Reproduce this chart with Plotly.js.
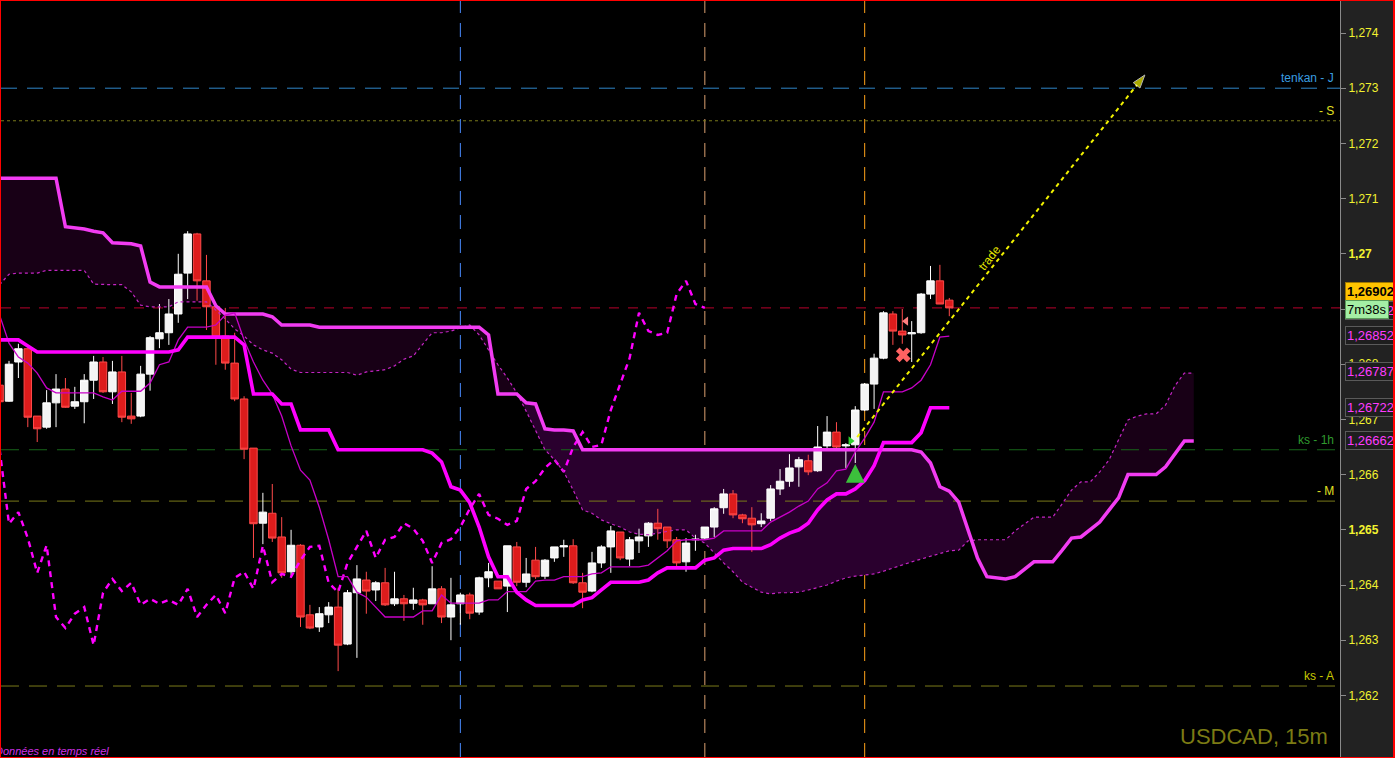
<!DOCTYPE html>
<html><head><meta charset="utf-8">
<script src="https://cdn.plot.ly/plotly-3.0.1.min.js"></script>
<style>
html,body{margin:0;padding:0;background:#ff0000;width:1395px;height:758px;overflow:hidden;}
#chart{position:absolute;left:1px;top:1px;width:1392px;height:756px;background:#222;}
</style></head><body><div id="chart"></div>
<script>
// ---- candles (bar index 0..101) ----
const open = [1.26762,1.26733,1.26804,1.26828,1.26706,1.26686,1.26730,1.26755,1.26724,1.26732,
1.26771,1.26804,1.26750,1.26786,1.26706,1.26706,1.26782,1.26846,1.26857,1.26891,
1.26965,1.27036,1.26951,1.26904,1.26851,1.26802,1.26737,1.26648,1.26512,1.26530,
1.26487,1.26424,1.26472,1.26346,1.26324,1.26346,1.26360,1.26293,1.26386,1.26409,
1.26391,1.26404,1.26366,1.26375,1.26367,1.26373,1.26366,1.26393,1.26342,1.26366,
1.26382,1.26351,1.26413,1.26407,1.26398,1.26469,1.26405,1.26445,1.26416,1.26449,
1.26469,1.26471,1.26404,1.26389,1.26440,1.26469,1.26496,1.26447,1.26480,1.26489,
1.26512,1.26505,1.26482,1.26442,1.26482,1.26485,1.26505,1.26540,1.26565,1.26527,
1.26521,1.26511,1.26521,1.26574,1.26588,1.26614,1.26625,1.26607,1.26652,1.26677,
1.26652,1.26654,1.26717,1.26764,1.26811,1.26891,1.26860,1.26855,1.26857,1.26927,
1.26951,1.26916];
const high = [1.26766,1.26806,1.26837,1.26829,1.26706,1.26753,1.26782,1.26775,1.26759,1.26782,
1.26815,1.26813,1.26806,1.26815,1.26748,1.26797,1.26851,1.26909,1.26918,1.27000,
1.27041,1.27038,1.26998,1.26907,1.26902,1.26857,1.26742,1.26648,1.26567,1.26583,
1.26523,1.26500,1.26474,1.26364,1.26360,1.26369,1.26395,1.26391,1.26436,1.26424,
1.26407,1.26431,1.26424,1.26382,1.26395,1.26375,1.26434,1.26398,1.26413,1.26386,
1.26386,1.26415,1.26440,1.26407,1.26471,1.26478,1.26449,1.26469,1.26447,1.26469,
1.26482,1.26483,1.26422,1.26460,1.26472,1.26507,1.26496,1.26487,1.26502,1.26514,
1.26538,1.26505,1.26487,1.26485,1.26491,1.26505,1.26541,1.26574,1.26572,1.26529,
1.26541,1.26530,1.26581,1.26610,1.26637,1.26632,1.26636,1.26688,1.26706,1.26695,
1.26657,1.26724,1.26766,1.26819,1.26896,1.26896,1.26900,1.26878,1.26929,1.26978,
1.26980,1.26920];
const low = [1.26726,1.26732,1.26775,1.26686,1.26659,1.26683,1.26686,1.26721,1.26719,1.26693,
1.26737,1.26748,1.26728,1.26695,1.26692,1.26704,1.26752,1.26829,1.26835,1.26875,
1.26918,1.26915,1.26862,1.26799,1.26790,1.26733,1.26628,1.26449,1.26474,1.26478,
1.26413,1.26418,1.26324,1.26320,1.26315,1.26331,1.26244,1.26291,1.26268,1.26348,
1.26371,1.26362,1.26362,1.26335,1.26355,1.26328,1.26366,1.26331,1.26300,1.26328,
1.26338,1.26346,1.26396,1.26393,1.26351,1.26398,1.26396,1.26411,1.26411,1.26442,
1.26451,1.26402,1.26358,1.26387,1.26431,1.26422,1.26445,1.26434,1.26458,1.26469,
1.26482,1.26467,1.26431,1.26424,1.26462,1.26483,1.26487,1.26529,1.26521,1.26512,
1.26460,1.26505,1.26516,1.26563,1.26578,1.26578,1.26599,1.26605,1.26646,1.26646,
1.26612,1.26621,1.26715,1.26719,1.26809,1.26835,1.26837,1.26804,1.26855,1.26918,
1.26909,1.26887];
const close = [1.26732,1.26800,1.26828,1.26704,1.26683,1.26730,1.26755,1.26722,1.26732,1.26771,
1.26804,1.26750,1.26786,1.26704,1.26701,1.26782,1.26848,1.26857,1.26891,1.26963,
1.27036,1.26951,1.26904,1.26849,1.26802,1.26737,1.26646,1.26511,1.26532,1.26485,
1.26422,1.26472,1.26342,1.26322,1.26348,1.26360,1.26291,1.26386,1.26411,1.26389,
1.26404,1.26364,1.26375,1.26366,1.26373,1.26364,1.26393,1.26342,1.26364,1.26382,
1.26349,1.26413,1.26424,1.26393,1.26471,1.26405,1.26420,1.26415,1.26445,1.26469,
1.26471,1.26404,1.26387,1.26440,1.26469,1.26498,1.26449,1.26482,1.26487,1.26512,
1.26502,1.26480,1.26440,1.26476,1.26483,1.26505,1.26538,1.26565,1.26527,1.26520,
1.26509,1.26516,1.26574,1.26588,1.26612,1.26627,1.26605,1.26650,1.26677,1.26650,
1.26654,1.26717,1.26764,1.26811,1.26893,1.26860,1.26853,1.26857,1.26927,1.26951,
1.26909,1.26902];

// ---- ichimoku ----
const tenkan = [1.26889,1.26838,1.26813,1.26802,1.26784,1.26757,1.26748,1.26748,1.26748,1.26748,
1.26748,1.26741,1.26735,1.26751,1.26751,1.26751,1.26766,1.26799,1.26804,1.26844,
1.26867,1.26867,1.26867,1.26871,1.26889,1.26893,1.26844,1.26804,1.26771,1.26746,
1.26706,1.26652,1.26608,1.26590,1.26541,1.26482,1.26415,1.26415,1.26387,1.26378,
1.26360,1.26342,1.26342,1.26342,1.26342,1.26353,1.26353,1.26382,1.26367,1.26367,
1.26367,1.26367,1.26373,1.26373,1.26388,1.26388,1.26388,1.26407,1.26409,1.26409,
1.26415,1.26415,1.26415,1.26420,1.26422,1.26433,1.26433,1.26433,1.26433,1.26436,
1.26449,1.26462,1.26480,1.26482,1.26482,1.26482,1.26485,1.26498,1.26498,1.26498,
1.26498,1.26498,1.26514,1.26523,1.26532,1.26543,1.26552,1.26574,1.26585,1.26607,
1.26610,1.26641,1.26666,1.26695,1.26750,1.26750,1.26750,1.26757,1.26771,1.26799,
1.26849,1.26851];
const kijun = [1.26844,1.26844,1.26844,1.26833,1.26822,1.26822,1.26822,1.26822,1.26822,1.26822,
1.26822,1.26822,1.26822,1.26822,1.26822,1.26822,1.26822,1.26822,1.26822,1.26826,
1.26849,1.26849,1.26849,1.26849,1.26849,1.26849,1.26835,1.26746,1.26746,1.26746,
1.26728,1.26728,1.26681,1.26681,1.26681,1.26681,1.26645,1.26645,1.26645,1.26645,
1.26645,1.26645,1.26645,1.26645,1.26645,1.26645,1.26639,1.26623,1.26578,1.26572,
1.26549,1.26505,1.26451,1.26415,1.26415,1.26387,1.26373,1.26363,1.26363,1.26363,
1.26363,1.26363,1.26373,1.26377,1.26391,1.26405,1.26405,1.26405,1.26405,1.26409,
1.26422,1.26431,1.26431,1.26431,1.26431,1.26445,1.26449,1.26463,1.26466,1.26466,
1.26466,1.26466,1.26473,1.26485,1.26494,1.26500,1.26512,1.26536,1.26554,1.26565,
1.26565,1.26574,1.26589,1.26616,1.26658,1.26658,1.26658,1.26658,1.26676,1.26721,
1.26721,1.26721];
// chikou span: plotted on bars 0..75
const chikou = [1.26646,1.26511,1.26532,1.26485,1.26422,1.26472,1.26342,1.26322,1.26348,1.26360,
1.26291,1.26386,1.26411,1.26389,1.26404,1.26364,1.26375,1.26366,1.26373,1.26364,
1.26393,1.26342,1.26364,1.26382,1.26349,1.26413,1.26424,1.26393,1.26471,1.26405,
1.26420,1.26415,1.26445,1.26469,1.26471,1.26404,1.26387,1.26440,1.26469,1.26498,
1.26449,1.26482,1.26487,1.26512,1.26502,1.26480,1.26440,1.26476,1.26483,1.26505,
1.26538,1.26565,1.26527,1.26520,1.26509,1.26516,1.26574,1.26588,1.26612,1.26627,
1.26605,1.26650,1.26677,1.26650,1.26654,1.26717,1.26764,1.26811,1.26893,1.26860,
1.26853,1.26857,1.26927,1.26951,1.26909,1.26902];
// senkou spans: plotted on bars 0..127 (26 bars ahead)
const spanA = [1.26944,1.26963,1.26965,1.26965,1.26965,1.26970,1.26970,1.26970,1.26970,1.26970,
1.26945,1.26944,1.26944,1.26944,1.26931,1.26907,1.26904,1.26904,1.26904,1.26913,
1.26913,1.26913,1.26913,1.26898,1.26882,1.26864,1.26851,1.26835,1.26826,1.26820,
1.26808,1.26791,1.26785,1.26785,1.26785,1.26785,1.26785,1.26785,1.26780,1.26786,
1.26788,1.26790,1.26797,1.26809,1.26815,1.26837,1.26857,1.26857,1.26860,1.26866,
1.26871,1.26853,1.26826,1.26799,1.26775,1.26748,1.26715,1.26679,1.26645,1.26627,
1.26605,1.26572,1.26536,1.26530,1.26518,1.26511,1.26505,1.26496,1.26492,1.26491,
1.26494,1.26496,1.26500,1.26500,1.26485,1.26476,1.26458,1.26440,1.26424,1.26405,
1.26396,1.26387,1.26384,1.26386,1.26386,1.26387,1.26391,1.26395,1.26400,1.26407,
1.26413,1.26416,1.26418,1.26420,1.26425,1.26431,1.26436,1.26442,1.26447,1.26452,
1.26458,1.26462,1.26463,1.26480,1.26482,1.26482,1.26482,1.26482,1.26498,1.26511,
1.26523,1.26523,1.26523,1.26547,1.26572,1.26587,1.26587,1.26605,1.26627,1.26663,
1.26699,1.26706,1.26710,1.26710,1.26726,1.26761,1.26784,1.26784];
const spanB = [1.27137,1.27137,1.27137,1.27137,1.27137,1.27137,1.27137,1.27049,1.27047,1.27045,
1.27041,1.27038,1.27020,1.27019,1.27018,1.27014,1.26949,1.26940,1.26940,1.26940,
1.26940,1.26940,1.26940,1.26906,1.26891,1.26891,1.26891,1.26891,1.26891,1.26886,
1.26871,1.26871,1.26871,1.26871,1.26867,1.26867,1.26867,1.26867,1.26867,1.26867,
1.26867,1.26867,1.26867,1.26867,1.26867,1.26867,1.26867,1.26867,1.26867,1.26867,
1.26867,1.26867,1.26853,1.26746,1.26746,1.26746,1.26730,1.26728,1.26683,1.26681,
1.26681,1.26679,1.26645,1.26645,1.26645,1.26645,1.26645,1.26645,1.26645,1.26645,
1.26645,1.26645,1.26645,1.26645,1.26645,1.26645,1.26645,1.26645,1.26645,1.26645,
1.26645,1.26645,1.26645,1.26645,1.26645,1.26645,1.26645,1.26645,1.26645,1.26645,
1.26645,1.26645,1.26645,1.26645,1.26645,1.26645,1.26645,1.26645,1.26641,1.26621,
1.26578,1.26570,1.26550,1.26500,1.26449,1.26415,1.26413,1.26411,1.26415,1.26429,
1.26442,1.26442,1.26442,1.26463,1.26485,1.26487,1.26500,1.26514,1.26536,1.26558,
1.26600,1.26600,1.26600,1.26600,1.26614,1.26637,1.26661,1.26661];
// cloud colouring segments [fromBar, toBar, kind]
const cloudSegments = [[0,55,'dark'],[55,103,'bright'],[103,127,'dark']];

// ---- reference levels / markers ----
const levelValues = [1.27300, 1.27241, 1.26902, 1.26645, 1.26552, 1.26217];
const levelLabels = ['tenkan - J', '- S', '', 'ks - 1h', '- M', 'ks - A'];
const markerBars = [49, 75, 92];
const tickValues = [1.262,1.263,1.264,1.265,1.266,1.267,1.268,1.269,1.27,1.271,1.272,1.273,1.274];
const tickLabels = ['1,262','1,263','1,264','<b>1,265</b>','1,266','1,267','1,268','','<b>1,27</b>','1,271','1,272','1,273','1,274'];
const boxValues = [1.26852, 1.26787, 1.26722, 1.26662];
const boxLabels = ['1,26852','1,26787','1,26722','1,26662'];
const priceNow = 1.26902, priceNowLabel = '1,26902', timerLabel = '7m38s';
const tradeX = [91.2, 121.8], tradeY = [1.26668, 1.27324];
const entryArrow = {bar: 91, price: 1.26619};
const entryTri = {bar: 90.5, price: 1.26661};
const exitCross = {bar: 96.1, price: 1.26817};
const exitTri = {bar: 96.4, price: 1.26878};

// ---- styles ----
const XR = [0.149, 142.55], YR = [1.2608841, 1.2745797];
const levelStyle = [
  {color:'#2f86c8', dash:'16px,10px', label:'#3a9ee0'},
  {color:'#7a7a1a', dash:'3px,3px', label:'#e0e020'},
  {color:'#b8002c', dash:'10px,9px', label:''},
  {color:'#17661a', dash:'18px,10px', label:'#2f9a2f'},
  {color:'#7a7a1a', dash:'18px,10px', label:'#e0e020'},
  {color:'#7a7a1a', dash:'18px,10px', label:'#c8c800'}];
const vStyle = [{color:'#4a8cff'},{color:'#dba070'},{color:'#ffa31a'}];
const cloudColor = {dark:'rgb(24,0,22)', bright:'rgb(42,0,46)'};

const idx = n => Array.from({length:n}, (_, i) => i);

// shapes drawn beneath every trace: cloud, levels, time markers
const shapes = [];
cloudSegments.forEach(([s, e, kind]) => {
  const pts = [];
  for (let i = s; i <= e; i++) pts.push(i + ',' + spanA[i]);
  for (let i = e; i >= s; i--) pts.push(i + ',' + spanB[i]);
  shapes.push({type:'path', xref:'x', yref:'y', layer:'below', path:'M' + pts.join('L') + 'Z',
    fillcolor: cloudColor[kind], line:{width:0}});
});
levelValues.forEach((v, k) => {
  shapes.push({type:'line', xref:'x', yref:'y', layer:'below', x0: XR[0], x1: XR[1], y0: v, y1: v,
    line:{color: levelStyle[k].color, width:1, dash: levelStyle[k].dash}});
});
markerBars.forEach((b, k) => {
  shapes.push({type:'line', xref:'x', yref:'paper', layer:'below', x0: b, x1: b, y0: 0, y1: 1,
    line:{color: vStyle[k].color, width:1, dash:'14px,10px'}});
});

const traces = [];
traces.push({x: idx(open.length), open, high, low, close, type:'candlestick',
  increasing:{line:{color:'#ffffff', width:1}, fillcolor:'#f4f4f4'},
  decreasing:{line:{color:'#ff4a4a', width:1}, fillcolor:'#dd1c1c'},
  whiskerwidth:0, hoverinfo:'skip'});
traces.push({x: idx(chikou.length), y: chikou, type:'scatter', mode:'lines',
  line:{color:'#ff00ff', width:2.4, dash:'6px,5px'}});
traces.push({x: idx(spanA.length), y: spanA, type:'scatter', mode:'lines',
  line:{color:'#c424c4', width:1.2, dash:'3px,3px'}});
traces.push({x: idx(spanB.length), y: spanB, type:'scatter', mode:'lines',
  line:{color:'#f23cf2', width:3.5}});
traces.push({x: idx(tenkan.length), y: tenkan, type:'scatter', mode:'lines',
  line:{color:'#c800c8', width:1.3}});
traces.push({x: idx(kijun.length), y: kijun, type:'scatter', mode:'lines',
  line:{color:'#ff00ff', width:3.6}});
traces.push({x: [entryTri.bar], y: [entryTri.price], type:'scatter', mode:'markers',
  marker:{symbol:'triangle-right', size:8, color:'#2fd02f'}});
traces.push({x: [exitCross.bar], y: [exitCross.price], type:'scatter', mode:'markers',
  marker:{symbol:'x', size:13, color:'#ff6262', line:{width:0}}});
traces.push({x: [exitTri.bar], y: [exitTri.price], type:'scatter', mode:'markers',
  marker:{symbol:'triangle-left', size:8, color:'#ff8080'}});
traces.push({x: tradeX, y: tradeY, type:'scatter', mode:'lines+markers',
  line:{color:'#f2f200', width:2, dash:'4px,4px'},
  marker:{symbol:'arrow', angleref:'previous', size:[0,14], color:'#f2f200'}});

const pxX = px => (px - 1) / 1339;           // page x -> paper
const pxY = py => 1 - (py - 1) / 756;        // page y -> paper
const annotations = [];
levelLabels.forEach((t, k) => {
  if (!t) return;
  annotations.push({xref:'paper', x: pxX(1336), xanchor:'right', yref:'y', y: levelValues[k],
    yanchor:'bottom', yshift:1, text:t, showarrow:false,
    font:{family:'Arial', size:12, color: levelStyle[k].label}});
});
boxValues.forEach((v, k) => {
  annotations.push({xref:'paper', x: pxX(1345), xanchor:'left', yref:'y', y: v, yanchor:'middle',
    text: boxLabels[k], showarrow:false, font:{family:'Arial', size:13, color:'#ff3cff'},
    bgcolor:'#1e1e1e', bordercolor:'#5a5a5a', borderwidth:1, borderpad:1});
});
annotations.push({xref:'paper', x: pxX(1345), xanchor:'left', yref:'y', y: priceNow, yanchor:'middle', yshift:-3,
  text: priceNowLabel, showarrow:false, font:{family:'Arial', size:13, color:'#ff3cff'},
  bgcolor:'#1e1e1e', bordercolor:'#5a5a5a', borderwidth:1, borderpad:1});
annotations.push({xref:'paper', x: pxX(1345), xanchor:'left', yref:'y', y: priceNow, yanchor:'bottom', yshift:7,
  text: '<b>'+priceNowLabel+'</b>', showarrow:false, font:{family:'Arial', size:13, color:'#000'},
  bgcolor:'#ffc400', bordercolor:'#a07800', borderwidth:1, borderpad:1});
annotations.push({xref:'paper', x: pxX(1345), xanchor:'left', yref:'y', y: priceNow, yanchor:'middle', yshift:-2,
  text: timerLabel, showarrow:false, font:{family:'Arial', size:13, color:'#000'},
  bgcolor:'#a4eea4', bordercolor:'#5a9a5a', borderwidth:1, borderpad:1});
annotations.push({xref:'x', x: entryArrow.bar, yref:'y', y: entryArrow.price, ax:0, ay:17,
  showarrow:true, arrowhead:2, arrowsize:0.75, arrowwidth:5, arrowcolor:'#3cc03c', text:''});
annotations.push({xref:'x', x: 105.3, yref:'y', y: 1.26992, text:'trade', showarrow:false,
  textangle:-51.7, font:{family:'Arial', size:12, color:'#e6e600'}});
annotations.push({xref:'paper', x: pxX(1330), xanchor:'right', yref:'paper', y: pxY(736), yanchor:'middle',
  text:'USDCAD, 15m', showarrow:false, font:{family:'Arial', size:22, color:'#7b7b14'}});
annotations.push({xref:'paper', x: pxX(-7), xanchor:'left', yref:'paper', y: pxY(751), yanchor:'middle',
  text:'<i>Données en temps réel</i>', showarrow:false, font:{family:'Arial', size:11, color:'#d030e8'}});

const layout = {
  width:1392, height:756, margin:{l:0, r:53, t:0, b:0},
  paper_bgcolor:'#222222', plot_bgcolor:'#000000', showlegend:false,
  boxgap:0.12, boxgroupgap:0.1,
  xaxis:{range:XR, visible:false, rangeslider:{visible:false}, fixedrange:true},
  yaxis:{range:YR, side:'right', showgrid:false, zeroline:false, showline:true, linecolor:'#8a8a8a',
    linewidth:1, ticks:'outside', ticklen:5, tickcolor:'#8a8a8a', tickvals:tickValues, ticktext:tickLabels,
    tickfont:{family:'Arial', size:12, color:'#f2f230'}, fixedrange:true},
  shapes, annotations
};
Plotly.newPlot('chart', traces, layout, {displayModeBar:false, staticPlot:true});
</script></body></html>
